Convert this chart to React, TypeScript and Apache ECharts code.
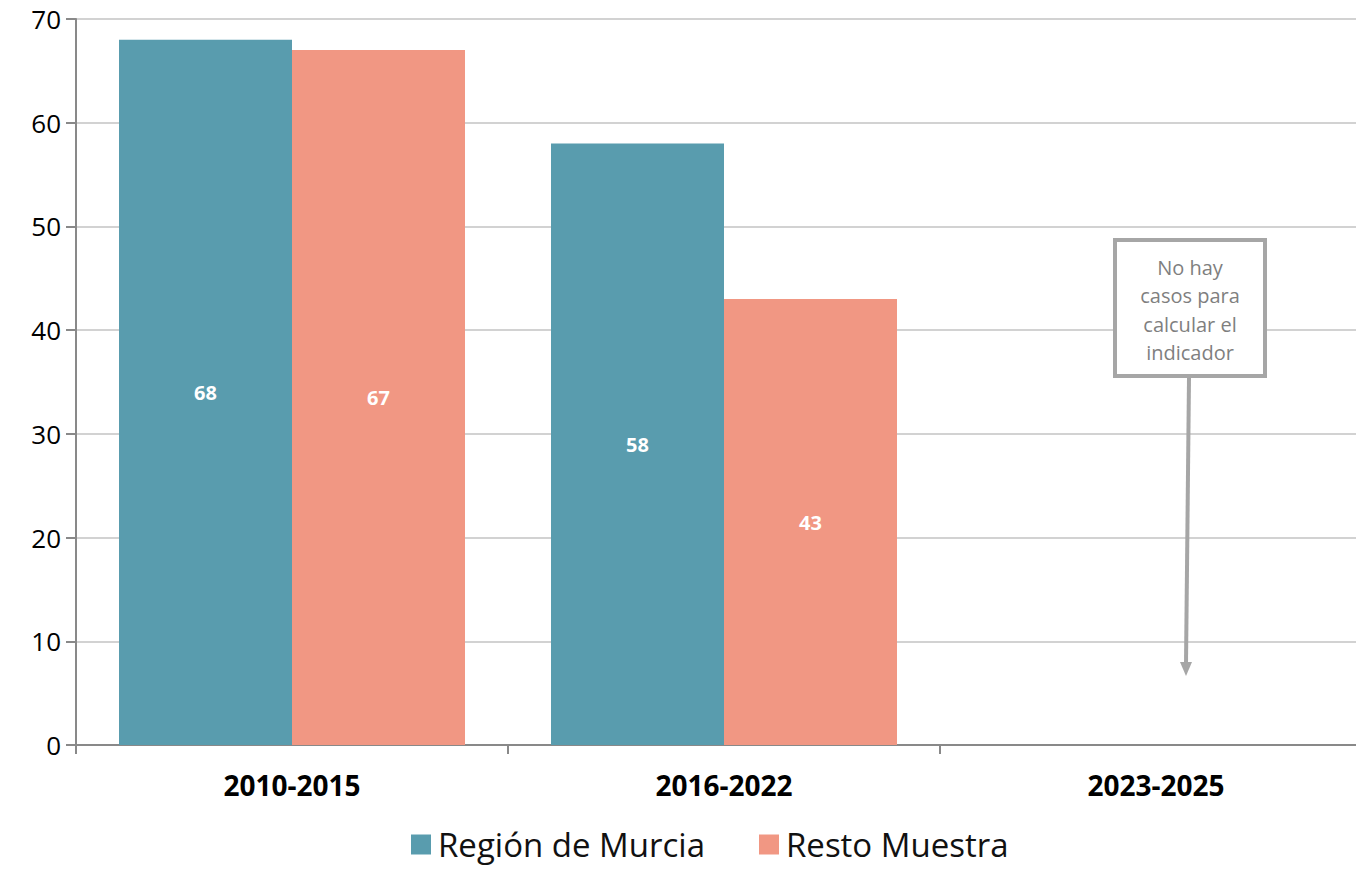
import React, { useEffect, useRef } from "react";
import * as echarts from "echarts";

const categories = ["2010-2015", "2016-2022", "2023-2025"];
const murcia: (number | null)[] = [68, 58, null];
const resto: (number | null)[] = [67, 43, null];
const yTicks = { min: 0, max: 70, interval: 10 };
const seriesNames = ["Región de Murcia", "Resto Muestra"];
const noteLines = ["No hay", "casos para", "calcular el", "indicador"];

const FONT = "'Open Sans', 'Noto Sans', sans-serif";

export default function App() {
  const ref = useRef<HTMLDivElement>(null);
  useEffect(() => {
    if (!ref.current) return;
    const chart = echarts.init(ref.current, undefined, { renderer: "svg" });
    const label = {
      show: true,
      position: "inside",
      color: "#ffffff",
      fontWeight: "bold",
      fontSize: 20,
      fontFamily: FONT,
    };
    chart.setOption({
      animation: false,
      backgroundColor: "#ffffff",
      grid: { left: 76, right: -16, top: 19, bottom: 124, containLabel: false, outerBoundsMode: "none" },
      legend: {
        data: seriesNames,
        left: 406,
        top: 823,
        icon: "rect",
        itemWidth: 20,
        itemHeight: 20,
        itemGap: 54,
        textStyle: { fontSize: 33, color: "#111", fontFamily: FONT, padding: [0, 0, 0, 2] },
      },
      xAxis: {
        type: "category",
        data: categories,
        axisLine: { lineStyle: { color: "#898989", width: 2 } },
        axisTick: { show: true, length: 9, lineStyle: { color: "#898989", width: 2 } },
        axisLabel: { fontSize: 28, fontWeight: "bold", color: "#000", fontFamily: FONT, margin: 26 },
        splitLine: { show: false },
      },
      yAxis: {
        type: "value",
        min: yTicks.min,
        max: yTicks.max,
        interval: yTicks.interval,
        axisLine: { show: true, lineStyle: { color: "#898989", width: 2 } },
        axisTick: { show: true, length: 10, lineStyle: { color: "#898989", width: 2 } },
        axisLabel: { fontSize: 26, color: "#000", fontFamily: FONT, margin: 15 },
        splitLine: { show: true, lineStyle: { color: "#c3c3c3", width: 1.5 } },
      },
      series: [
        {
          name: seriesNames[0],
          type: "bar",
          data: murcia,
          barWidth: 173,
          barGap: "0%",
          itemStyle: { color: "#599CAE" },
          label,
        },
        {
          name: seriesNames[1],
          type: "bar",
          data: resto,
          barWidth: 173,
          barGap: "0%",
          itemStyle: { color: "#F19783" },
          label,
        },
      ],
      graphic: [
        {
          type: "line",
          shape: { x1: 1189, y1: 378, x2: 1186, y2: 664 },
          style: { stroke: "#a6a6a6", lineWidth: 4 },
          z: 100,
        },
        {
          type: "polygon",
          shape: { points: [[1180, 662], [1192, 662], [1186, 676]] },
          style: { fill: "#a6a6a6" },
          z: 100,
        },
        {
          type: "rect",
          shape: { x: 1115, y: 240, width: 150, height: 136 },
          style: { fill: "#ffffff", stroke: "#a6a6a6", lineWidth: 4 },
          z: 101,
        },
        ...noteLines.map((t, i) => ({
          type: "text",
          x: 1190,
          y: 267 + i * 28.5,
          z: 102,
          style: {
            text: t,
            fill: "#7f7f7f",
            fontSize: 20,
            fontFamily: FONT,
            align: "center",
            verticalAlign: "middle",
          },
        })),
      ],
    });
    return () => chart.dispose();
  }, []);
  return (
    <div
      ref={ref}
      style={{ position: "fixed", left: 0, top: 0, width: 1356, height: 869, background: "#fff" }}
    />
  );
}
